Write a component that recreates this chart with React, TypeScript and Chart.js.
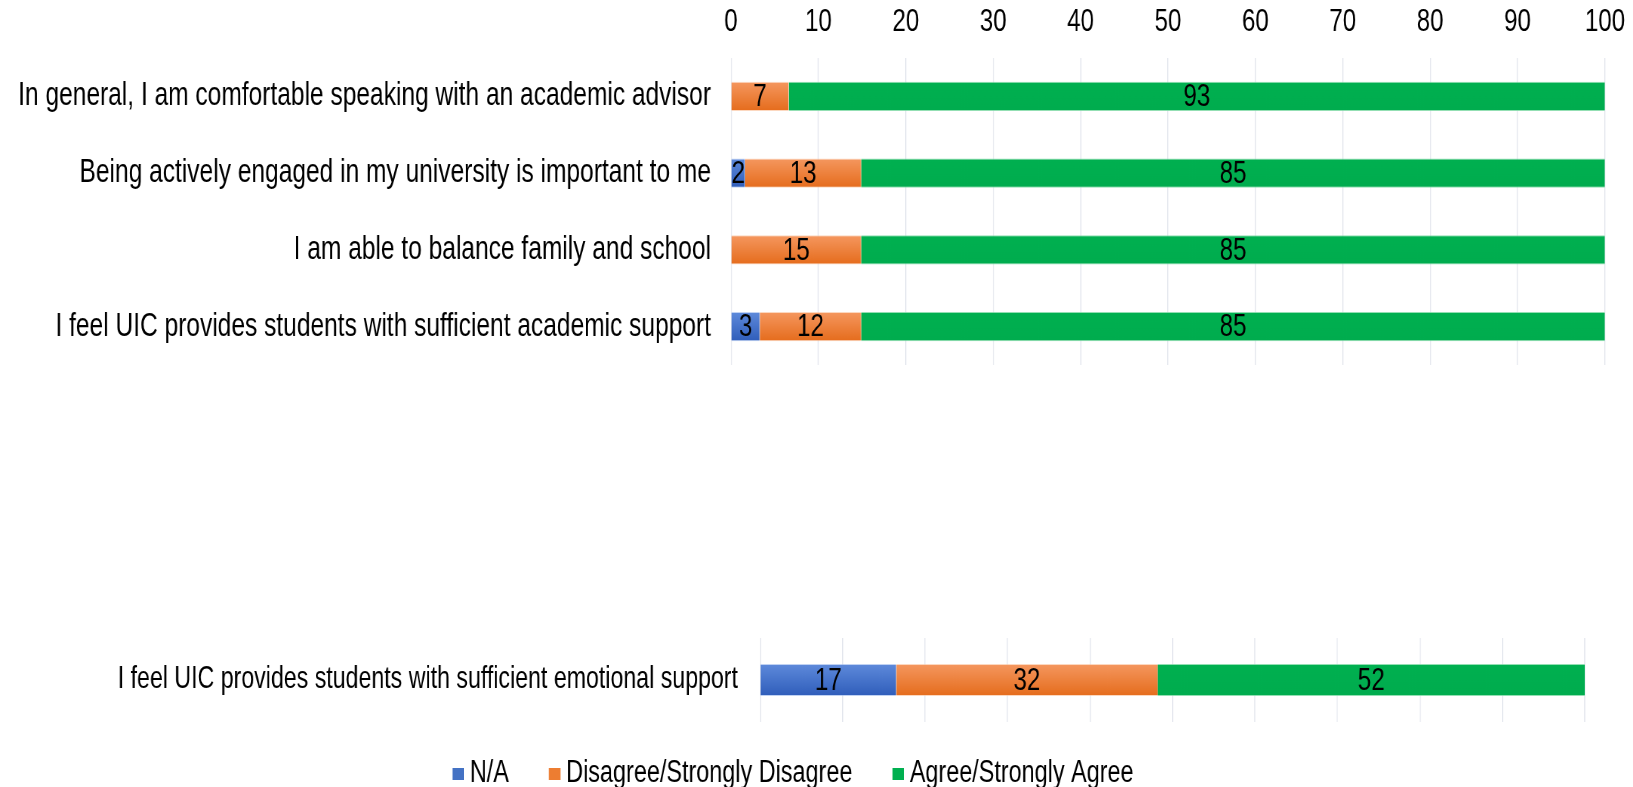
import React, { useEffect, useRef } from 'react';
import { Chart, registerables } from 'chart.js';
Chart.register(...registerables);

// ---------- data ----------
const topCategories = [
  'In general, I am comfortable speaking with an academic advisor',
  'Being actively engaged in my university is important to me',
  'I am able to balance family and school',
  'I feel UIC provides students with sufficient academic support',
];
const topNA = [0, 1.6, 0, 3.3];
const topDisagree = [6.6, 13.3, 14.9, 11.6];
const topAgree = [93.4, 85.1, 85.1, 85.1];

const bottomCategories = ['I feel UIC provides students with sufficient emotional support'];
const bottomNA = [16.5];
const bottomDisagree = [31.7];
const bottomAgree = [51.8];

const seriesNames = ['N/A', 'Disagree/Strongly Disagree', 'Agree/Strongly Agree'];
const axisMin = 0;
const axisMax = 100;
const axisStep = 10;

// ---------- layout / style ----------
const W = 1633;
const SX = 0.755; // horizontal squeeze of the reference
const IW = Math.round(W / SX);
const FONT = '"Liberation Sans", Arial, sans-serif';
const BAR_PCT = 0.38;
const BOT_LEFT = -8; // css offset of the lower canvas
const uTop = (css: number) => css / SX;
const uBot = (css: number) => (css - BOT_LEFT) / SX;

const colors = {
  na: { top: '#5E8ADB', mid: '#4472C4', bottom: '#2F5DBA' },
  dis: { top: '#F5975F', mid: '#ED7D31', bottom: '#E56C1C' },
  agr: { top: '#00B050', mid: '#00B050', bottom: '#00AC4E' },
};
const legendColors = [colors.na.mid, colors.dis.mid, colors.agr.mid];

function grad(c: { top: string; mid: string; bottom: string }) {
  return (ctx: any) => {
    const chart = ctx.chart;
    const ys = chart.scales && chart.scales.y;
    if (!ys || ctx.type !== 'data' || ctx.dataIndex === undefined) return c.mid;
    const yc = ys.getPixelForValue(ctx.dataIndex);
    const half = ((ys.height / chart.data.labels.length) * BAR_PCT) / 2;
    if (!isFinite(yc) || !isFinite(half)) return c.mid;
    const g = chart.ctx.createLinearGradient(0, yc - half, 0, yc + half);
    g.addColorStop(0, c.top);
    g.addColorStop(1, c.bottom);
    return g;
  };
}

function makeValueLabels(size: number) {
  return {
    id: 'valueLabels',
    afterDatasetsDraw(chart: any) {
      const ctx = chart.ctx;
      ctx.save();
      ctx.font = `${size}px ${FONT}`;
      ctx.fillStyle = '#000';
      ctx.textAlign = 'center';
      ctx.textBaseline = 'middle';
      chart.data.datasets.forEach((ds: any, di: number) => {
        const meta = chart.getDatasetMeta(di);
        meta.data.forEach((el: any, i: number) => {
          const r = Math.round(ds.data[i]);
          if (!r) return;
          const p = el.getProps(['x', 'y', 'base'], true);
          ctx.fillText(String(r), (p.x + p.base) / 2, p.y + 1);
        });
      });
      ctx.restore();
    },
  };
}

const LEGEND_SHIFT = 9.5;
const legendShift = {
  id: 'legendShift',
  afterLayout(chart: any) {
    const l = chart.legend;
    if (l) {
      l.top -= LEGEND_SHIFT;
      l.bottom -= LEGEND_SHIFT;
    }
  },
};

// legend swatch: coloured square on the right half so it sits close to its text
function swatch(color: string) {
  const c = document.createElement('canvas');
  c.width = 30;
  c.height = 12;
  const g = c.getContext('2d') as CanvasRenderingContext2D;
  g.fillStyle = color;
  g.fillRect(15, 0, 15, 12);
  return c;
}

function datasets(na: number[], dis: number[], agr: number[]) {
  const common = {
    barPercentage: BAR_PCT,
    categoryPercentage: 1,
    borderWidth: { top: 1, bottom: 1, left: 0, right: 0 },
    borderSkipped: false,
  };
  return [
    { label: seriesNames[0], data: na, backgroundColor: grad(colors.na), borderColor: 'rgba(150,180,235,0.6)', ...common },
    { label: seriesNames[1], data: dis, backgroundColor: grad(colors.dis), borderColor: 'rgba(250,190,150,0.6)', ...common },
    { label: seriesNames[2], data: agr, backgroundColor: grad(colors.agr), borderColor: 'rgba(120,215,160,0.8)', ...common },
  ];
}

const gridColor = '#e3e6ed';
const TOP_H = 385;
const LEG_PAD = 45.5;
const LEG_FONT = 31;
const BOT_PLOT_BOTTOM = 119.5;
const BOT_H = Math.round(BOT_PLOT_BOTTOM + LEG_FONT + LEG_PAD + 10);

export default function App() {
  const topRef = useRef<HTMLCanvasElement>(null);
  const botRef = useRef<HTMLCanvasElement>(null);

  useEffect(() => {
    const topChart = new Chart(topRef.current as HTMLCanvasElement, {
      type: 'bar',
      data: { labels: topCategories, datasets: datasets(topNA, topDisagree, topAgree) as any },
      options: {
        indexAxis: 'y',
        responsive: false,
        animation: false,
        devicePixelRatio: 1,
        layout: { padding: { left: 0, right: IW - uTop(1605), top: 0, bottom: 20 } },
        plugins: { legend: { display: false }, tooltip: { enabled: false } },
        scales: {
          x: {
            position: 'top',
            stacked: true,
            min: axisMin,
            max: axisMax,
            ticks: { stepSize: axisStep, padding: 0, color: '#000', font: { family: FONT, size: 32 } },
            grid: { color: gridColor, lineWidth: 1.4, drawTicks: true, tickLength: 17, tickColor: 'rgba(0,0,0,0)' },
            border: { display: false },
            afterFit: (s: any) => { s.height = 58; },
          },
          y: {
            stacked: true,
            ticks: { padding: 0, color: '#000', font: { family: FONT, size: 32.5 } },
            grid: { display: false, drawTicks: true, tickLength: uTop(731) - uTop(711) },
            border: { display: false },
            afterFit: (s: any) => { s.width = uTop(731); },
          },
        },
      } as any,
      plugins: [makeValueLabels(32)],
    });

    const padL = 4.5;
    const botChart = new Chart(botRef.current as HTMLCanvasElement, {
      type: 'bar',
      data: { labels: bottomCategories, datasets: datasets(bottomNA, bottomDisagree, bottomAgree) as any },
      options: {
        indexAxis: 'y',
        responsive: false,
        animation: false,
        devicePixelRatio: 1,
        layout: { padding: { left: padL, right: IW - uBot(1585), top: 38, bottom: 0 } },
        plugins: {
          tooltip: { enabled: false },
          legend: {
            position: 'bottom',
            labels: {
              color: '#000',
              font: { family: FONT, size: LEG_FONT },
              usePointStyle: true,
              pointStyleWidth: 15,
              boxHeight: 12,
              padding: LEG_PAD,
              generateLabels: (chart: any) =>
                chart.data.datasets.map((ds: any, i: number) => ({
                  text: ds.label,
                  fillStyle: legendColors[i],
                  strokeStyle: legendColors[i],
                  lineWidth: 0,
                  pointStyle: swatch(legendColors[i]),
                  fontColor: '#000',
                  hidden: false,
                  datasetIndex: i,
                })),
            },
          },
        },
        scales: {
          x: {
            position: 'bottom',
            stacked: true,
            min: axisMin,
            max: axisMax,
            ticks: { stepSize: axisStep, display: false },
            grid: { color: gridColor, lineWidth: 1.4, drawTicks: false },
            border: { display: false },
          },
          y: {
            stacked: true,
            ticks: { padding: 0, color: '#000', font: { family: FONT, size: 30.7 } },
            grid: { display: false, drawTicks: true, tickLength: uBot(760) - uBot(738) },
            border: { display: false },
            afterFit: (s: any) => { s.width = uBot(760) - padL; },
          },
        },
      } as any,
      plugins: [makeValueLabels(32), legendShift],
    });

    return () => {
      topChart.destroy();
      botChart.destroy();
    };
  }, []);

  return (
    <div style={{ position: 'fixed', left: 0, top: 0, width: W, height: 787, overflow: 'hidden', background: '#fff' }}>
      <canvas
        ref={topRef}
        width={IW}
        height={TOP_H}
        style={{ position: 'absolute', left: 0, top: 0, width: W, height: TOP_H, display: 'block' }}
      />
      <canvas
        ref={botRef}
        width={IW}
        height={BOT_H}
        style={{ position: 'absolute', left: BOT_LEFT, top: 600, width: W, height: BOT_H, display: 'block' }}
      />
    </div>
  );
}
